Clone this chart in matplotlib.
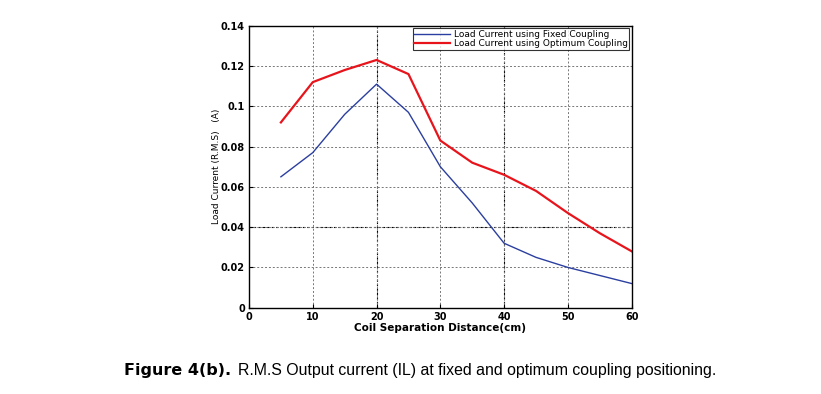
import numpy as np
import matplotlib.pyplot as plt

# coil separation distance (cm)
distance = [5, 10, 15, 20, 25, 30, 35, 40, 45, 50, 55, 60]
# RMS load current (A)
fixed_coupling = [0.065, 0.077, 0.096, 0.111, 0.097, 0.070, 0.052, 0.032, 0.025, 0.020, 0.016, 0.012]
optimum_coupling = [0.092, 0.112, 0.118, 0.123, 0.116, 0.083, 0.072, 0.066, 0.058, 0.047, 0.037, 0.028]

xticks = [0, 10, 20, 30, 40, 50, 60]
yticks = [0, 0.02, 0.04, 0.06, 0.08, 0.1, 0.12, 0.14]
ytick_labels = ['0', '0.02', '0.04', '0.06', '0.08', '0.1', '0.12', '0.14']

fig = plt.figure(figsize=(8.21, 3.94), dpi=100)
ax = fig.add_axes([0.3033, 0.219, 0.4661, 0.7157])

# Plot both curves
ax.plot(distance, fixed_coupling, color='#2b3fa0', lw=1.0, label='Load Current using Fixed Coupling')
ax.plot(distance, optimum_coupling, color='#e8141c', lw=1.6, label='Load Current using Optimum Coupling')

ax.set_xlim(0, 60)
ax.set_ylim(0, 0.14)
ax.set_xticks(xticks)
ax.set_yticks(yticks)
ax.set_yticklabels(ytick_labels)
ax.tick_params(labelsize=7, direction='in', length=3, pad=3)
for lbl in ax.get_xticklabels() + ax.get_yticklabels():
    lbl.set_fontweight('bold')

# grid: grey dotted, a few darker lines like in the scan
ax.grid(True, color='#777777', linestyle=(0, (2, 2)), linewidth=0.7)
for xv in [20, 40]:
    ax.axvline(xv, color='black', linestyle=(0, (2, 2)), linewidth=0.8, zorder=1)
ax.axhline(0.04, color='black', linestyle=(0, (2, 2)), linewidth=0.8, zorder=1)
for s in ax.spines.values():
    s.set_linewidth(1.0)

ax.set_xlabel('Coil Separation Distance(cm)', fontsize=7.5, fontweight='bold', labelpad=1)
ax.set_ylabel('Load Current (R.M.S)   (A)', fontsize=6.5, labelpad=0)

leg = ax.legend(loc='upper right', fontsize=6.5, frameon=True, fancybox=False,
                borderpad=0.15, labelspacing=0.05, handlelength=4.0, handletextpad=0.4,
                borderaxespad=0.3)
leg.get_frame().set_edgecolor('black')
leg.get_frame().set_linewidth(0.8)

# caption
fig.text(0.151, 0.06, 'Figure 4(b).', fontsize=11.5, fontweight='bold',
         family='DejaVu Sans', va='center')
fig.text(0.290, 0.06, 'R.M.S Output current (IL) at fixed and optimum coupling positioning.',
         fontsize=11.4, family=['Liberation Sans', 'DejaVu Sans'], va='center')

fig.savefig('out.png', dpi=100)
